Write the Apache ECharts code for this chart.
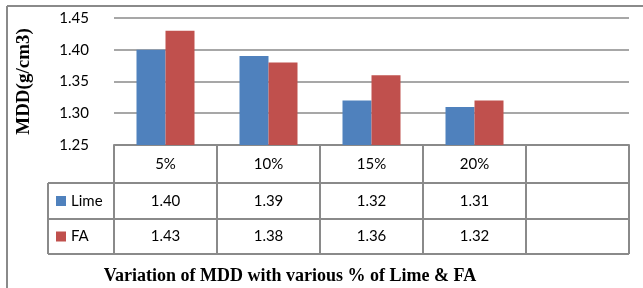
<!DOCTYPE html>
<html>
<head>
<meta charset="utf-8">
<title>MDD</title>
<script src="https://cdn.jsdelivr.net/npm/echarts@6/dist/echarts.min.js"></script>
<style>html,body{margin:0;background:#fff}#chart{width:643px;height:288px}</style>
</head>
<body>
<div id="chart"></div>
<script>
var categories = ['5%', '10%', '15%', '20%', ''];
var limeValues = [1.40, 1.39, 1.32, 1.31, null];
var faValues = [1.43, 1.38, 1.36, 1.32, null];
var seriesNames = ['Lime', 'FA'];
var seriesColors = ['#4F81BD', '#C0504D'];

var lineColor = '#8a8a8a';
var font = 'Lato';
var dom = document.getElementById('chart');
var myChart = echarts.init(dom);

var option = {
    animation: false,
    grid: { left: 114, right: 14, top: 18, bottom: 143 },
    xAxis: {
        type: 'category',
        data: categories,
        axisLine: { lineStyle: { color: lineColor, width: 2 } },
        axisTick: { show: false },
        axisLabel: { margin: 12, fontFamily: font, fontSize: 15, color: '#000' }
    },
    yAxis: {
        type: 'value',
        min: 1.25,
        max: 1.45,
        interval: 0.05,
        name: 'MDD(g/cm3)',
        nameLocation: 'middle',
        nameGap: 80,
        nameRotate: 90,
        nameTextStyle: { fontFamily: 'Liberation Serif', fontWeight: 'bold', fontSize: 19, color: '#000' },
        axisLine: { show: false },
        axisTick: { show: false },
        axisLabel: {
            margin: 25, fontFamily: font, fontSize: 15, color: '#000',
            formatter: function (v) { return v.toFixed(2); }
        },
        splitLine: { lineStyle: { color: lineColor, width: 1.5 } }
    },
    series: [
        { name: seriesNames[0], type: 'bar', data: limeValues, barWidth: 29, barGap: '0%',
          itemStyle: { color: seriesColors[0] } },
        { name: seriesNames[1], type: 'bar', data: faValues, barWidth: 29, barGap: '0%',
          itemStyle: { color: seriesColors[1] } }
    ]
};
myChart.setOption(option);

// data table under the plot, built from the axis positions
var c0 = myChart.convertToPixel({ xAxisIndex: 0 }, 0);
var c1 = myChart.convertToPixel({ xAxisIndex: 0 }, 1);
var band = c1 - c0;
var left = c0 - band / 2;
var right = left + band * categories.length;
var axisY = myChart.convertToPixel({ yAxisIndex: 0 }, 1.25);
var rowY = [axisY, axisY + 38, axisY + 74, axisY + 109];
var keyLeft = 48;
var g = [];
function line(x1, y1, x2, y2) {
    g.push({ type: 'line', shape: { x1: x1, y1: y1, x2: x2, y2: y2 },
             style: { stroke: lineColor, lineWidth: 2 } });
}
for (var i = 0; i <= categories.length; i++) {
    var x = left + band * i;
    line(x, axisY, x, rowY[3]);
}
line(keyLeft, rowY[1], keyLeft, rowY[3]);
line(keyLeft, rowY[1], right, rowY[1]);
line(keyLeft, rowY[2], right, rowY[2]);
line(keyLeft, rowY[3], right, rowY[3]);

var rows = [limeValues, faValues];
for (var r = 0; r < rows.length; r++) {
    var cy = (rowY[r + 1] + rowY[r + 2]) / 2;
    g.push({ type: 'rect', shape: { x: 56, y: cy - 5, width: 10, height: 10 },
             style: { fill: seriesColors[r] } });
    g.push({ type: 'text', x: 71, y: cy,
             style: { text: seriesNames[r], font: '15px ' + font, fill: '#000', verticalAlign: 'middle' } });
    for (var j = 0; j < categories.length; j++) {
        if (rows[r][j] == null) continue;
        g.push({ type: 'text', x: c0 + band * j, y: cy,
                 style: { text: rows[r][j].toFixed(2), font: '15px ' + font, fill: '#000',
                          align: 'center', verticalAlign: 'middle' } });
    }
}

// outer frame and caption
g.push({ type: 'line', shape: { x1: 7, y1: 6, x2: 643, y2: 6 }, style: { stroke: lineColor, lineWidth: 2 } });
g.push({ type: 'line', shape: { x1: 7, y1: 6, x2: 7, y2: 288 }, style: { stroke: lineColor, lineWidth: 2 } });
g.push({ type: 'text', x: 290, y: 276,
         style: { text: 'Variation of MDD with various % of Lime & FA', font: 'bold 18px "Liberation Serif"',
                  fill: '#000', align: 'center', verticalAlign: 'middle' } });

myChart.setOption({ graphic: g });
</script>
</body>
</html>
